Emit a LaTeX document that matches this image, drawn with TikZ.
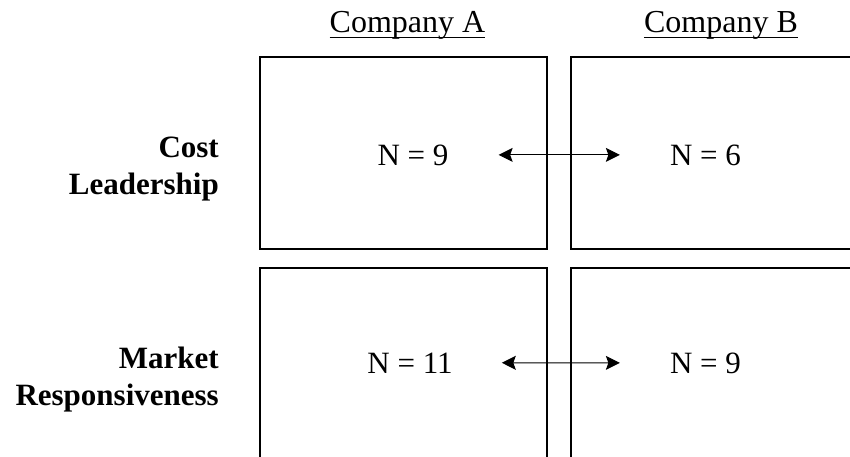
\documentclass[tikz,border=0pt]{standalone}
\usepackage{fontspec}
\setmainfont{Liberation Serif}
\usetikzlibrary{arrows.meta}
\begin{document}
\begin{tikzpicture}[x=1pt,y=-1pt,
  cell/.style={draw, line width=1.5pt},
  txt/.style={inner sep=0pt, anchor=base, font=\fontsize{31}{37}\selectfont},
  heading/.style={txt, font=\fontsize{32}{38}\selectfont},
  rowlabel/.style={inner sep=0pt, anchor=base east, align=right,
    font=\fontsize{31}{37}\selectfont\bfseries},
  tip/.tip={Stealth[length=14pt,width=14pt,inset=2.5pt]},
  link/.style={line width=1pt, tip-tip},
  rule/.style={line width=1.5pt}
]
\useasboundingbox (0,0) rectangle (850,457);
\clip (0,0) rectangle (850,457);

% grid cells (right column and bottom row run past the edge)
\draw[cell] (260,57) rectangle (547,249);
\draw[cell] (571,57) rectangle (870,249);
\draw[cell] (260,268) rectangle (547,480);
\draw[cell] (571,268) rectangle (870,480);

% column headings
\node[heading] (ha) at (407.5,33) {Company A};
\node[heading] (hb) at (721,33) {Company B};
\draw[rule] ([yshift=-4.5pt]ha.base west) -- ([yshift=-4.5pt]ha.base east);
\draw[rule] ([yshift=-4.5pt]hb.base west) -- ([yshift=-4.5pt]hb.base east);

% row labels
\node[rowlabel] (r1) at (219,194) {Cost\\Leadership};
\node[rowlabel] (r2) at (219,405) {Market\\Responsiveness};

% counts
\node[txt] (a1) at (413,165) {N = 9};
\node[txt] (b1) at (705.5,165) {N = 6};
\node[txt] (a2) at (410,373) {N = 11};
\node[txt] (b2) at (705.5,373) {N = 9};

% comparisons
\draw[link] ([xshift=50pt]a1.east) -- ([xshift=-50pt]b1.west);
\draw[link] ([xshift=49pt]a2.east) -- ([xshift=-50pt]b2.west);
\end{tikzpicture}
\end{document}
